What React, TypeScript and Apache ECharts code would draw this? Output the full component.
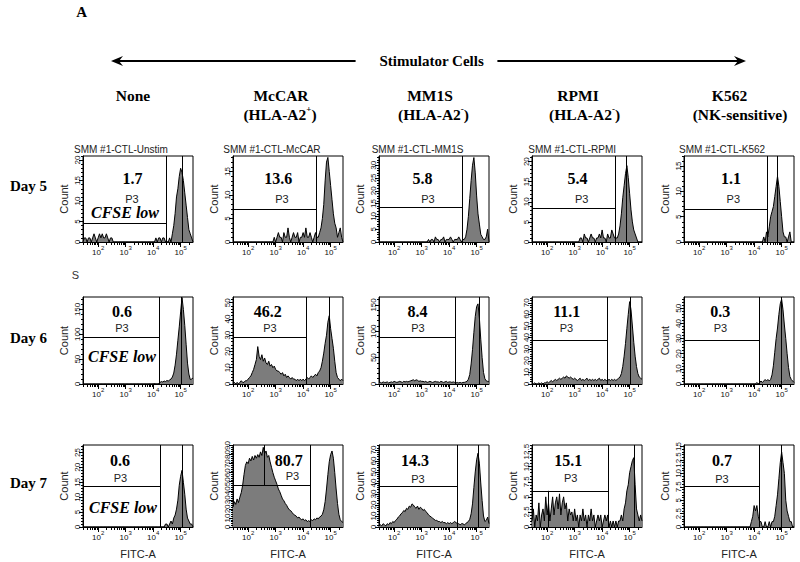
import React, { useEffect, useRef } from 'react';
import * as echarts from 'echarts';

// ---------------- data ----------------
const STIMULATORS = ['None', 'McCAR', 'MM1S', 'RPMI', 'K562'];
const STIMULATOR_NOTES: (string[] | null)[] = [
  null,
  ['(HLA-A2', '+', ')'],
  ['(HLA-A2', '-', ')'],
  ['(HLA-A2', '-', ')'],
  ['(NK-sensitive)', '', ''],
];
const DAYS = ['Day 5', 'Day 6', 'Day 7'];
const TUBES = ['SMM #1-CTL-Unstim', 'SMM #1-CTL-McCAR', 'SMM #1-CTL-MM1S', 'SMM #1-CTL-RPMI', 'SMM #1-CTL-K562'];
const CFSE_LOW_PCT = [
  ['1.7', '13.6', '5.8', '5.4', '1.1'],
  ['0.6', '46.2', '8.4', '11.1', '0.3'],
  ['0.6', '80.7', '14.3', '15.1', '0.7'],
];
const GATE_NAME = 'P3';

// log10(FITC-A) bin positions
const FITC_LOG_BINS = [
  1.45, 1.5, 1.55, 1.6, 1.65, 1.7, 1.75, 1.8, 1.85, 1.9, 1.95, 2.0, 2.05, 2.1, 2.15, 2.2, 2.25, 2.3, 2.35, 2.4,
  2.45, 2.5, 2.55, 2.6, 2.65, 2.7, 2.75, 2.8, 2.85, 2.9, 2.95, 3.0, 3.05, 3.1, 3.15, 3.2, 3.25, 3.3, 3.35, 3.4,
  3.45, 3.5, 3.55, 3.6, 3.65, 3.7, 3.75, 3.8, 3.85, 3.9, 3.95, 4.0, 4.05, 4.1, 4.15, 4.2, 4.25, 4.3, 4.35, 4.4,
  4.45, 4.5, 4.55, 4.6, 4.65, 4.7, 4.75, 4.8, 4.85, 4.9, 4.95, 5.0, 5.05, 5.1, 5.15, 5.2, 5.25, 5.3, 5.35, 5.4,
  5.45,
];
const X_MIN = 1.45;
const X_MAX = 5.45;
const X_MAJOR = [2, 3, 4, 5];
const X_MINOR_RAW = [30, 40, 50, 60, 70, 80, 90, 200, 300, 400, 500, 600, 700, 800, 900, 2000, 3000, 4000, 5000, 6000,
  7000, 8000, 9000, 20000, 30000, 40000, 50000, 60000, 70000, 80000, 90000, 200000];

const D5_NONE = [0, 1,
  1, 0, 1, 1, 0, 1, 2, 1, 0, 1, 2, 1, 2, 1, 1, 2, 1, 0, 1, 1,
  0, 0, 0, 0, 0, 0, 0, 0, 0, 0, 0, 0, 0, 0, 0, 0, 0, 0, 0, 0, 0, 0, 0, 0, 0, 0, 0, 0, 0, 0,
  0, 1, 0, 1, 1, 0, 1, 1, 0,
  0, 0, 1, 0,
  2, 4, 7, 11, 13, 16, 18, 17, 15, 12, 9, 6, 3, 2, 1, 0];
const D5_MCCAR = [0, 0, 0, 0, 0, 0, 0, 0, 0, 0, 0, 0, 0, 0, 0, 0, 0, 0, 0, 0, 0, 0, 0, 0, 0, 0, 0, 0, 0, 0,
  1, 0, 1, 2, 1, 1, 0, 2, 1, 1, 3, 1, 0, 1, 2, 1, 1, 2, 0, 1, 1, 2, 1, 3, 1, 1, 2, 1, 0, 1, 2,
  1, 1, 2, 3, 5, 8, 13, 17, 18, 15, 12, 9, 6, 4, 3, 1, 2, 3, 1, 0];
const D5_MM1S = [0, 0, 0, 0, 0, 0, 0, 0, 0, 0, 0, 0, 0, 0, 0, 0, 0, 0, 0, 0, 0, 0, 0, 0, 0, 0, 0, 0, 0, 0, 0, 0, 0, 0, 0, 0,
  1, 0, 1, 1, 0, 2, 1, 1, 0, 1, 1, 2, 0, 1, 1, 1, 2, 1, 0, 1, 1, 1, 2, 1, 0, 1,
  1, 2, 5, 10, 17, 24, 30, 33, 27, 18, 11, 7, 3, 2, 1, 1, 2, 5, 0];
const D5_RPMI = [0, 0, 0, 0, 0, 0, 0, 0, 0, 0, 0, 0, 0, 0, 0, 0, 0, 0, 0, 0, 0, 0, 0, 0, 0, 0, 0, 0, 0, 0, 0, 0, 0, 0, 0,
  1, 1, 0, 2, 1, 1, 0, 1, 2, 1, 1, 0, 1, 1, 2, 1, 3, 1, 1, 0, 2, 1, 1, 3, 2, 1,
  1, 1, 2, 4, 7, 11, 14, 17, 19, 16, 12, 8, 5, 3, 2, 1, 0, 0, 0, 0];
const D5_K562 = [0, 0, 0, 0, 0, 0, 0, 0, 0, 0, 0, 0, 0, 0, 0, 0, 0, 0, 0, 0, 0, 0, 0, 0, 0, 0, 0, 0, 0, 0,
  0, 0, 0, 0, 0, 0, 0, 0, 0, 0, 0, 0, 0, 0, 0, 0, 0, 0, 0, 0, 0, 0, 0, 0, 0, 0, 0, 0,
  1, 0, 2, 1, 3, 5, 6, 7, 9, 11, 13, 11, 8, 5, 2, 1, 1, 0, 1, 2, 0, 0, 0];

const D6_NONE = [0, 0, 0, 0, 0, 0, 0, 0, 0, 0, 0, 0, 0, 0, 0, 0, 0, 0, 0, 0, 0, 0, 0, 0, 0, 0, 0, 0, 0, 0,
  0, 0, 0, 0, 0, 0, 0, 0, 0, 0, 0, 0, 0, 0, 0, 0, 0, 0, 0, 0, 0, 0, 1, 0, 0,
  1, 3, 5, 4, 6, 5, 7, 6, 8, 10, 14, 22, 38, 60, 88, 115, 145, 174, 150, 118, 80, 42, 20, 9, 10, 12];
const D6_MCCAR = [0,
  1, 0, 1, 0, 1, 2, 1, 1,
  2, 2, 3, 4, 5, 7, 9, 12, 15, 23,
  17, 15, 18, 14, 16, 13, 12, 14, 11, 12,
  10, 11, 9, 8, 8, 7, 6, 7, 5, 6,
  4, 5, 4, 3, 4, 3, 3, 2, 3, 2,
  3, 2, 3, 2, 3, 4, 3, 4, 5, 4,
  5, 6, 5, 7, 8, 10, 14, 19, 25, 30,
  38, 42, 34, 28, 22, 14, 7, 4, 3, 2,
  3, 2];
const D6_MM1S = [2,
  3, 2, 4, 3, 3, 4, 2, 3, 4, 3, 5, 4, 3, 4, 5, 4, 3, 5, 4, 5, 4, 5,
  6, 7, 8, 6, 8, 7, 5, 6, 5,
  5, 4, 5, 3, 4, 5, 4, 3, 4, 5, 4, 4, 3, 5, 4, 3, 4, 5, 3, 4, 4, 3, 4, 3,
  2, 3, 2, 3, 2, 3, 3, 4, 5,
  9, 18, 38, 65, 98, 128, 147, 152, 125, 85, 50, 22, 10, 6, 5, 4];
const D6_RPMI = [0, 0, 1, 0, 0, 1, 0, 1, 0, 1, 1,
  2, 1, 2, 3, 2, 3, 4, 3, 4, 5,
  4, 5, 6, 5, 7, 6, 5, 6, 5, 4,
  5, 4, 3, 4, 5, 3, 4, 3, 4, 5, 3, 4, 3, 4, 3, 4, 3, 4, 5, 3, 4, 3,
  4, 3, 3, 4, 3, 4, 3, 4, 3, 4, 5, 6,
  9, 15, 24, 35, 48, 60, 71, 64, 50, 36, 24, 15, 9, 6, 5, 4];
const D6_K562 = [0, 0, 0, 0, 0, 0, 0, 0, 0, 0, 0, 0, 0, 0, 0, 0, 0, 0, 0, 0, 0, 0, 0, 0, 0, 0,
  0, 0, 0, 0, 0, 0, 0, 0, 0, 0, 0, 0, 0, 0, 0, 0, 0, 0, 0, 0, 0, 0, 0, 0, 0, 0,
  0, 1, 0, 1, 2, 1, 2, 3, 2, 3, 2,
  3, 6, 12, 21, 30, 37, 46, 53, 56, 49, 39, 30, 20, 11, 5, 3, 2, 1];

const D7_NONE = [0, 0, 0, 0, 0, 0, 0, 0, 0, 0, 0, 0, 0, 0, 0, 0, 0, 0, 0, 0, 0, 0, 0, 0, 0, 0, 0, 0, 0, 0,
  0, 0, 0, 0, 0, 0, 0, 0, 0, 0, 0, 0, 0, 0, 0, 0, 0, 0, 0, 0, 0, 0, 0, 0, 0, 0, 0, 0, 0, 0,
  1, 1, 0, 1, 2, 1, 3, 4, 6, 9, 14, 17, 19, 15, 11, 6, 3, 2, 1, 1, 0];
const D7_MCCAR = [22, 28, 25, 31, 27, 33, 38, 46, 58, 68,
  72, 70, 76, 73, 78, 74, 79, 76, 80, 77,
  83, 79, 88, 81, 84, 77, 79, 72, 66, 60,
  55, 51, 47, 42, 39, 35, 31, 29, 26, 24,
  21, 19, 18, 16, 14, 13, 12, 10, 11, 9,
  8, 9, 7, 8, 6, 7, 6, 8, 7, 9,
  8, 10, 9, 11, 12, 14, 19, 28, 42, 58,
  72, 80, 84, 76, 60, 42, 26, 14, 8, 6,
  5];
const D7_MM1S = [1,
  2, 1, 3, 2, 1, 3, 2, 4, 3, 5,
  4, 6, 7, 9, 10, 12, 13, 15, 14, 17,
  16, 19, 18, 21, 20, 18, 17, 19, 16, 18,
  17, 15, 16, 14, 13, 11, 10, 9, 8, 7,
  6, 6, 5, 5, 4, 5, 4, 4, 3, 4,
  3, 4, 3, 4, 5, 4, 3, 3, 2, 3,
  3, 2, 3, 4, 5, 7, 12, 21, 36, 50,
  61, 67, 58, 40, 24, 10, 5, 6, 9, 3];
const D7_RPMI = [1,
  3, 0, 2, 1, 4, 0, 2, 3, 1, 5, 2,
  4, 1, 3, 5, 2, 4, 5, 3, 5.5, 2,
  4, 5, 3, 4, 1, 3, 2, 2.5, 1, 3,
  1, 2, 0, 2, 1, 3, 1, 2, 0, 2,
  1, 3, 1, 2, 0, 1, 2, 1, 2, 0,
  1, 2, 1, 2, 0, 1, 0, 1, 0, 1,
  0, 1, 1, 2, 1, 3, 4, 6, 7, 9,
  10, 11, 11.5, 7, 3, 2, 1, 2, 1];
const D7_K562 = [0, 0, 0, 0, 0, 0, 0, 0, 0, 0, 0, 0, 0, 0, 0, 0, 0, 0, 0, 0, 0, 0, 0, 0, 0,
  0, 0, 0, 0, 0, 0, 0, 0, 0, 0, 0, 0, 0, 0, 0, 0, 0, 0, 0, 0, 0, 0, 0, 0,
  1, 2, 4, 3, 4, 2, 1, 1, 0, 0,
  1, 0, 0, 1, 0, 1, 1, 2, 4, 6,
  9, 12, 14, 12, 10, 5, 3, 2, 1, 1,
  0, 0];

const COUNTS = [
  [D5_NONE, D5_MCCAR, D5_MM1S, D5_RPMI, D5_K562],
  [D6_NONE, D6_MCCAR, D6_MM1S, D6_RPMI, D6_K562],
  [D7_NONE, D7_MCCAR, D7_MM1S, D7_RPMI, D7_K562],
];
const Y_MAX = [
  [21, 18.3, 33.6, 21.4, 17],
  [175, 53.5, 165, 75, 57.5],
  [27.5, 90.6, 74.5, 13.6, 15.3],
];
const Y_STEP = [
  [5, 5, 5, 5, 5],
  [50, 10, 50, 10, 10],
  [5, 10, 10, 2.5, 2.5],
];
const GATE_LEVEL = [
  [4.6, 6.9, 13.5, 8.3, 6.45],
  [94, 28.6, 88, 38, 29],
  [13.8, 45.7, 37, 6.0, 7.6],
];
const GATE_EDGE = [
  [4.47, 4.49, 4.49, 4.47, 4.48],
  [4.22, 4.13, 4.22, 4.2, 4.19],
  [4.25, 4.25, 4.3, 4.22, 4.2],
];
const PEAK_MARK: (number | null)[][] = [
  [5.07, null, null, 4.89, 4.84],
  [5.04, 4.94, 5.08, 5.04, 5.0],
  [5.06, null, 5.06, 5.16, 4.97],
];
// [x, 'up' = gate->top, 'down' = 0->gate]
const GATE_SPLIT: ([number, string] | null)[][] = [
  [null, null, null, null, null],
  [null, null, null, null, null],
  [null, [2.59, 'up'], null, [2.03, 'down'], null],
];

// ---------------- layout ----------------
const COL_LEFT = [83, 233, 379, 532, 684];
const PANEL_W = 110;
const ROW_TOP = [156, 297, 445];
const ROW_H = [86, 87, 82];
const TITLE_X = [74, 223.3, 371.7, 528.3, 679];
const PCT_XY = [
  [[132.5, 178], [278.3, 178], [422.5, 178], [577.5, 178], [731, 178]],
  [[122, 311.7], [267.8, 311.7], [417.5, 311.7], [566.7, 311.7], [720.3, 311.7]],
  [[120, 460], [288.8, 460.5], [415, 460.5], [568.3, 460.5], [722, 460]],
];
const P3_XY = [
  [[132, 199], [282, 199], [428, 199], [581.7, 199], [733.3, 199]],
  [[122, 327.5], [270, 327.5], [418, 327.5], [566.5, 327.5], [720.5, 327.5]],
  [[120.5, 478.3], [292.5, 475.5], [418, 479], [570.7, 477.5], [722, 479]],
];
const CFSE_XY = [[125, 212.5], [122, 356.7], [123, 507.5]];
const HEAD_X = [133, 281, 430, 578, 729.5];
const NOTE_X = [0, 280, 433.5, 584.6, 740];
const DAY_XY = [[28.5, 186], [28.5, 338], [28.5, 483]];

const SERIF = '"Liberation Serif", "Times New Roman", serif';
const SANS = '"Liberation Sans", Arial, sans-serif';

function buildOption() {
  const grid: any[] = [];
  const xAxis: any[] = [];
  const yAxis: any[] = [];
  const series: any[] = [];
  const graphic: any[] = [];
  const xMinor = X_MINOR_RAW.map((v) => Math.log10(v));

  for (let r = 0; r < 3; r++) {
    for (let c = 0; c < 5; c++) {
      const idx = grid.length;
      const ymax = Y_MAX[r][c];
      const step = Y_STEP[r][c];
      const majors: number[] = [];
      for (let k = 0; k * step <= ymax + 1e-9; k++) majors.push(Math.round(k * step * 100) / 100);
      const minors: number[] = [];
      for (let k = 0; k * step / 5 <= ymax + 1e-9; k++) minors.push(Math.round((k * step / 5) * 1000) / 1000);

      grid.push({
        left: COL_LEFT[c], top: ROW_TOP[r], width: PANEL_W, height: ROW_H[r],
        show: true, borderColor: '#000', borderWidth: 1, backgroundColor: 'transparent', containLabel: false,
      });
      xAxis.push({
        gridIndex: idx, type: 'value', min: X_MIN, max: X_MAX, position: 'bottom',
        axisLine: { show: true, onZero: false, lineStyle: { color: '#000', width: 1 } },
        axisTick: { show: true, customValues: X_MAJOR, length: 5, lineStyle: { color: '#000', width: 1 } },
        axisLabel: {
          show: true, customValues: X_MAJOR, margin: 3,
          formatter: (v: number) => '{b|10}{s|' + Math.round(v) + '}',
          rich: {
            b: { fontSize: 8, fontFamily: SANS, color: '#111', lineHeight: 11, verticalAlign: 'bottom' },
            s: { fontSize: 6, fontFamily: SANS, color: '#111', lineHeight: 7, verticalAlign: 'top' },
          },
        },
        splitLine: { show: false },
        name: r === 2 ? 'FITC-A' : '',
        nameLocation: 'middle', nameGap: 21,
        nameTextStyle: { fontSize: 11, fontFamily: SANS, color: '#222' },
      });
      xAxis.push({
        gridIndex: idx, type: 'value', min: X_MIN, max: X_MAX, position: 'bottom', offset: 0,
        axisLine: { show: false, onZero: false },
        axisTick: { show: true, customValues: xMinor, length: 3, lineStyle: { color: '#000', width: 1 } },
        axisLabel: { show: false },
        splitLine: { show: false },
      });
      yAxis.push({
        gridIndex: idx, type: 'value', min: 0, max: ymax, position: 'left',
        axisLine: { show: true, onZero: false, lineStyle: { color: '#000', width: 1 } },
        axisTick: { show: true, customValues: majors, length: 4, lineStyle: { color: '#000', width: 1 } },
        axisLabel: {
          show: true, customValues: majors, rotate: 90, margin: 2,
          fontSize: 8, fontFamily: SANS, color: '#111',
        },
        splitLine: { show: false },
        name: 'Count', nameLocation: 'middle', nameGap: 14,
        nameTextStyle: { fontSize: 11, fontFamily: SANS, color: '#222' },
      });
      yAxis.push({
        gridIndex: idx, type: 'value', min: 0, max: ymax, position: 'left', offset: 0,
        axisLine: { show: false, onZero: false },
        axisTick: { show: true, customValues: minors, length: 2, lineStyle: { color: '#000', width: 1 } },
        axisLabel: { show: false },
        splitLine: { show: false },
      });

      const g = GATE_LEVEL[r][c];
      const edge = GATE_EDGE[r][c];
      const segs: any[] = [
        [{ coord: [X_MIN, g] }, { coord: [edge, g] }],
        [{ coord: [edge, 0] }, { coord: [edge, ymax] }],
      ];
      const pk = PEAK_MARK[r][c];
      if (pk !== null) segs.push([{ coord: [pk, 0] }, { coord: [pk, ymax] }]);
      const sp = GATE_SPLIT[r][c];
      if (sp) {
        if (sp[1] === 'up') segs.push([{ coord: [sp[0], g] }, { coord: [sp[0], ymax] }]);
        else segs.push([{ coord: [sp[0], 0] }, { coord: [sp[0], g] }]);
      }

      const counts = COUNTS[r][c];
      series.push({
        type: 'line',
        xAxisIndex: 2 * idx,
        yAxisIndex: 2 * idx,
        data: FITC_LOG_BINS.map((x, i) => [x, counts[i]]),
        showSymbol: false, symbol: 'none', silent: true, clip: true,
        lineStyle: { color: '#000', width: 1 },
        areaStyle: { color: '#7c7c7c', opacity: 1 },
        markLine: {
          silent: true, symbol: ['none', 'none'], animation: false,
          label: { show: false },
          lineStyle: { color: '#000', width: 1, type: 'solid' },
          emphasis: { disabled: true },
          data: segs,
        },
      });

      graphic.push({
        type: 'text', x: PCT_XY[r][c][0], y: PCT_XY[r][c][1], silent: true, z: 100,
        style: { text: CFSE_LOW_PCT[r][c], font: 'bold 16px ' + SERIF, fill: '#000', align: 'center', verticalAlign: 'middle' },
      });
      graphic.push({
        type: 'text', x: P3_XY[r][c][0], y: P3_XY[r][c][1], silent: true, z: 100,
        style: { text: GATE_NAME, font: '11px ' + SANS, fill: '#222', align: 'center', verticalAlign: 'middle' },
      });
      if (r === 0) {
        graphic.push({
          type: 'text', x: TITLE_X[c], y: 149.5, silent: true,
          style: { text: TUBES[c], font: '10px ' + SANS, fill: '#222', align: 'left', verticalAlign: 'middle' },
        });
      }
    }
    graphic.push({
      type: 'text', x: CFSE_XY[r][0], y: CFSE_XY[r][1], silent: true, z: 100,
      style: { text: 'CFSE low', font: 'italic bold 16px ' + SERIF, fill: '#000', align: 'center', verticalAlign: 'middle' },
    });
    graphic.push({
      type: 'text', x: DAY_XY[r][0], y: DAY_XY[r][1], silent: true,
      style: { text: DAYS[r], font: 'bold 15px ' + SERIF, fill: '#000', align: 'center', verticalAlign: 'middle' },
    });
  }

  // truncated tube title above Day 6 / None
  graphic.push({
    type: 'text', x: 75.5, y: 275, silent: true,
    style: { text: 'S', font: '11px ' + SANS, fill: '#333', align: 'center', verticalAlign: 'middle' },
  });

  // headers
  graphic.push({
    type: 'text', x: 81.6, y: 12, silent: true,
    style: { text: 'A', font: 'bold 15px ' + SERIF, fill: '#000', align: 'center', verticalAlign: 'middle' },
  });
  graphic.push({
    type: 'text', x: 431.6, y: 61, silent: true,
    style: { text: 'Stimulator Cells', font: 'bold 15px ' + SERIF, fill: '#000', align: 'center', verticalAlign: 'middle' },
  });
  graphic.push({ type: 'line', silent: true, shape: { x1: 118, y1: 61, x2: 355.6, y2: 61 }, style: { stroke: '#000', lineWidth: 2 } });
  graphic.push({ type: 'polygon', silent: true, shape: { points: [[111, 61], [123, 56], [119, 61], [123, 66]] }, style: { fill: '#000' } });
  graphic.push({ type: 'line', silent: true, shape: { x1: 497.4, y1: 61, x2: 739, y2: 61 }, style: { stroke: '#000', lineWidth: 2 } });
  graphic.push({ type: 'polygon', silent: true, shape: { points: [[746, 61], [734, 56], [738, 61], [734, 66]] }, style: { fill: '#000' } });

  for (let c = 0; c < 5; c++) {
    graphic.push({
      type: 'text', x: HEAD_X[c], y: 95.5, silent: true,
      style: { text: STIMULATORS[c], font: 'bold 15.5px ' + SERIF, fill: '#000', align: 'center', verticalAlign: 'middle' },
    });
    const note = STIMULATOR_NOTES[c];
    if (note) {
      graphic.push({
        type: 'text', x: NOTE_X[c], y: 113.5, silent: true,
        style: {
          text: '{n|' + note[0] + '}' + (note[1] ? '{s|' + note[1] + '}' : '') + (note[2] ? '{n|' + note[2] + '}' : ''),
          align: 'center', verticalAlign: 'middle',
          rich: {
            n: { fontSize: 15.5, fontWeight: 'bold', fontFamily: SERIF, fill: '#000', lineHeight: 18, verticalAlign: 'bottom' },
            s: { fontSize: 9, fontWeight: 'bold', fontFamily: SERIF, fill: '#000', lineHeight: 10, verticalAlign: 'top' },
          },
        },
      });
    }
  }

  return {
    animation: false,
    backgroundColor: '#fff',
    textStyle: { fontFamily: SANS },
    grid, xAxis, yAxis, series, graphic,
  };
}

export default function App() {
  const ref = useRef<HTMLDivElement>(null);
  useEffect(() => {
    if (!ref.current) return;
    const chart = echarts.init(ref.current, undefined, { renderer: 'svg' });
    chart.setOption(buildOption() as any);
    return () => chart.dispose();
  }, []);
  return (
    <div
      ref={ref}
      style={{ position: 'fixed', left: 0, top: 0, width: 800, height: 562, background: '#fff' }}
    />
  );
}
